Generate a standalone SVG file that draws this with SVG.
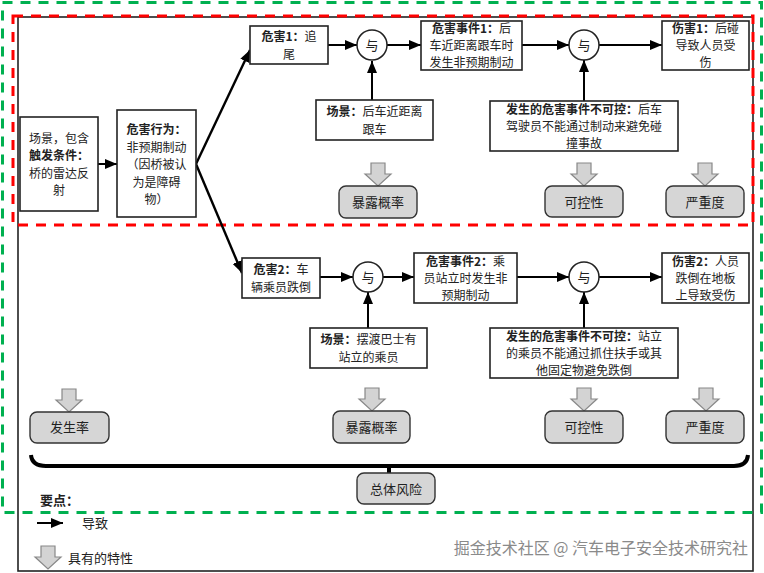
<svg xmlns="http://www.w3.org/2000/svg" width="764" height="573" viewBox="0 0 764 573">
<style>
text{font-family:"Noto Sans CJK SC","Liberation Sans",sans-serif;font-size:13px;fill:#222}
.m{font-size:12px}
.c{text-anchor:middle}
.b{font-weight:bold}
.box{fill:#fff;stroke:#222;stroke-width:1.6}
.gbox{fill:#d6d6d6;stroke:#333;stroke-width:1.4}
.circ{fill:#fff;stroke:#222;stroke-width:1.5}
.darr{fill:#d3d3d3;stroke:#888;stroke-width:1.2}
.con{stroke:#000;stroke-width:2;fill:none;marker-end:url(#ah)}
.wm{font-size:16px;fill:#8a8a8a}
</style>
<defs>
<marker id="ah" viewBox="0 0 12 10" refX="12" refY="5" markerWidth="12" markerHeight="10" markerUnits="userSpaceOnUse" orient="auto"><path d="M0,0 L12,5 L0,10 z" fill="#000"/></marker>
<path id="da" d="M-7,0 H7 V11 H13 L0,23 L-13,11 H-7 Z"/>
</defs>
<rect width="764" height="573" fill="#fff"/>
<rect x="18" y="17" width="735" height="554" fill="none" stroke="#222" stroke-width="1.6"/>
<rect x="13" y="16" width="740" height="209" fill="none" stroke="#ff0000" stroke-width="3" stroke-dasharray="10,8"/>
<rect x="2.5" y="2.5" width="759" height="510" fill="none" stroke="#00b050" stroke-width="3" stroke-dasharray="10,8"/>

<g id="connectors">
<line class="con" x1="98" y1="164" x2="117" y2="164"/>
<line class="con" x1="196" y1="164" x2="250" y2="50" style="stroke-width:2.4"/>
<line class="con" x1="196" y1="164" x2="242" y2="273" style="stroke-width:2.4"/>
<line class="con" x1="328" y1="45" x2="357" y2="45"/>
<line class="con" x1="372" y1="100" x2="372" y2="61"/>
<line class="con" x1="387" y1="45" x2="421" y2="45"/>
<line class="con" x1="522" y1="45" x2="569" y2="45"/>
<line class="con" x1="599" y1="45" x2="662" y2="45"/>
<line class="con" x1="584" y1="101" x2="584" y2="60"/>
<line class="con" x1="320" y1="277" x2="353" y2="277"/>
<line class="con" x1="383" y1="277" x2="414" y2="277"/>
<line class="con" x1="517" y1="277" x2="569" y2="277"/>
<line class="con" x1="599" y1="277" x2="662" y2="277"/>
<line class="con" x1="368" y1="328" x2="368" y2="292"/>
<line class="con" x1="584" y1="328" x2="584" y2="292"/>
<path d="M31,455 Q32,466 46,466 H734 Q747,466 748,455" fill="none" stroke="#000" stroke-width="4"/>
<line x1="389" y1="466" x2="389" y2="474" stroke="#000" stroke-width="4"/>
</g>

<g id="scene0">
<rect class="box" x="20" y="117" width="78" height="94"/>
<text class="c m"><tspan x="59" y="142.5">场景，包含</tspan><tspan x="59" y="160" class="b">触发条件：</tspan><tspan x="59" y="177.5">桥的雷达反</tspan><tspan x="59" y="195">射</tspan></text>
</g>
<g id="behavior">
<rect class="box" x="117" y="110" width="79" height="107"/>
<text class="c m"><tspan x="156.5" y="134" class="b">危害行为：</tspan><tspan x="156.5" y="151.5">非预期制动</tspan><tspan x="156.5" y="169">（因桥被认</tspan><tspan x="156.5" y="186.5">为是障碍</tspan><tspan x="156.5" y="204">物）</tspan></text>
</g>
<g id="hazard1">
<rect class="box" x="250" y="26" width="78" height="38"/>
<text class="c m"><tspan x="289" y="41"><tspan class="b">危害1：</tspan>追</tspan><tspan x="289" y="58.5">尾</tspan></text>
</g>
<g id="and1">
<circle class="circ" cx="372" cy="45" r="15"/>
<text class="c" x="372" y="50">与</text>
</g>
<g id="scene1">
<rect class="box" x="316" y="100" width="117" height="40"/>
<text class="c m"><tspan x="374.5" y="116"><tspan class="b">场景：</tspan>后车近距离</tspan><tspan x="374.5" y="133.5">跟车</tspan></text>
</g>
<g id="event1">
<rect class="box" x="421" y="21" width="101" height="49"/>
<text class="c m"><tspan x="471.5" y="33">
<tspan class="b">危害事件1：</tspan>后</tspan><tspan x="471.5" y="50">车近距离跟车时</tspan><tspan x="471.5" y="67">发生非预期制动</tspan></text>
</g>
<g id="and2">
<circle class="circ" cx="584" cy="45" r="15"/>
<text class="c" x="584" y="50">与</text>
</g>
<g id="harm1">
<rect class="box" x="662" y="21" width="87" height="49"/>
<text class="c m"><tspan x="705.5" y="33"><tspan class="b">伤害1：</tspan>后碰</tspan><tspan x="705.5" y="50">导致人员受</tspan><tspan x="705.5" y="67">伤</tspan></text>
</g>
<g id="uncontrol1">
<rect class="box" x="490" y="101" width="188" height="50"/>
<text class="c m"><tspan x="584" y="113.5"><tspan class="b">发生的危害事件不可控：</tspan>后车</tspan><tspan x="584" y="130.5">驾驶员不能通过制动来避免碰</tspan><tspan x="584" y="147.5">撞事故</tspan></text>
</g>
<g id="exposure1">
<use href="#da" class="darr" x="378" y="163"/>
<rect class="gbox" x="339" y="186" width="78" height="32" rx="7"/>
<text class="c" x="378" y="207">暴露概率</text>
</g>
<g id="control1">
<use href="#da" class="darr" x="584" y="163"/>
<rect class="gbox" x="545" y="186" width="78" height="31" rx="7"/>
<text class="c" x="584" y="207">可控性</text>
</g>
<g id="severity1">
<use href="#da" class="darr" x="705" y="163"/>
<rect class="gbox" x="666" y="186" width="78" height="31" rx="7"/>
<text class="c" x="705" y="207">严重度</text>
</g>

<g id="hazard2">
<rect class="box" x="242" y="258" width="78" height="40"/>
<text class="c m"><tspan x="281" y="274"><tspan class="b">危害2：</tspan>车</tspan><tspan x="281" y="291.5">辆乘员跌倒</tspan></text>
</g>
<g id="and3">
<circle class="circ" cx="368" cy="277" r="15"/>
<text class="c" x="368" y="282">与</text>
</g>
<g id="scene2">
<rect class="box" x="310" y="328" width="117" height="40"/>
<text class="c m"><tspan x="368.5" y="344"><tspan class="b">场景：</tspan>摆渡巴士有</tspan><tspan x="368.5" y="361.5">站立的乘员</tspan></text>
</g>
<g id="event2">
<rect class="box" x="414" y="253" width="103" height="50"/>
<text class="c m"><tspan x="465.5" y="265.5"><tspan class="b">危害事件2：</tspan>乘</tspan><tspan x="465.5" y="282.5">员站立时发生非</tspan><tspan x="465.5" y="299.5">预期制动</tspan></text>
</g>
<g id="and4">
<circle class="circ" cx="584" cy="277" r="15"/>
<text class="c" x="584" y="282">与</text>
</g>
<g id="harm2">
<rect class="box" x="662" y="253" width="87" height="50"/>
<text class="c m"><tspan x="705.5" y="265.5"><tspan class="b">伤害2：</tspan>人员</tspan><tspan x="705.5" y="282.5">跌倒在地板</tspan><tspan x="705.5" y="299.5">上导致受伤</tspan></text>
</g>
<g id="uncontrol2">
<rect class="box" x="490" y="328" width="188" height="50"/>
<text class="c m"><tspan x="584" y="340.5"><tspan class="b">发生的危害事件不可控：</tspan>站立</tspan><tspan x="584" y="357.5">的乘员不能通过抓住扶手或其</tspan><tspan x="584" y="374.5">他固定物避免跌倒</tspan></text>
</g>
<g id="occurrence">
<use href="#da" class="darr" x="69" y="389"/>
<rect class="gbox" x="30" y="412" width="79" height="31" rx="7"/>
<text class="c" x="69.5" y="432">发生率</text>
</g>
<g id="exposure2">
<use href="#da" class="darr" x="372" y="388"/>
<rect class="gbox" x="333" y="411" width="77" height="32" rx="7"/>
<text class="c" x="371.5" y="432">暴露概率</text>
</g>
<g id="control2">
<use href="#da" class="darr" x="584" y="388"/>
<rect class="gbox" x="545" y="411" width="78" height="32" rx="7"/>
<text class="c" x="584" y="432">可控性</text>
</g>
<g id="severity2">
<use href="#da" class="darr" x="706" y="388"/>
<rect class="gbox" x="666" y="411" width="78" height="32" rx="7"/>
<text class="c" x="705" y="432">严重度</text>
</g>
<g id="totalrisk">
<rect class="gbox" x="357" y="473" width="78" height="31" rx="7"/>
<text class="c" x="396" y="494">总体风险</text>
</g>

<g id="legend">
<text class="b" x="40" y="505">要点：</text>
<line class="con" x1="37" y1="523" x2="63" y2="523"/>
<text x="82" y="528">导致</text>
<use href="#da" class="darr" x="48" y="546"/>
<text x="68" y="563">具有的特性</text>
</g>
<text class="wm" x="748" y="554" text-anchor="end">掘金技术社区 @ 汽车电子安全技术研究社</text>
</svg>
